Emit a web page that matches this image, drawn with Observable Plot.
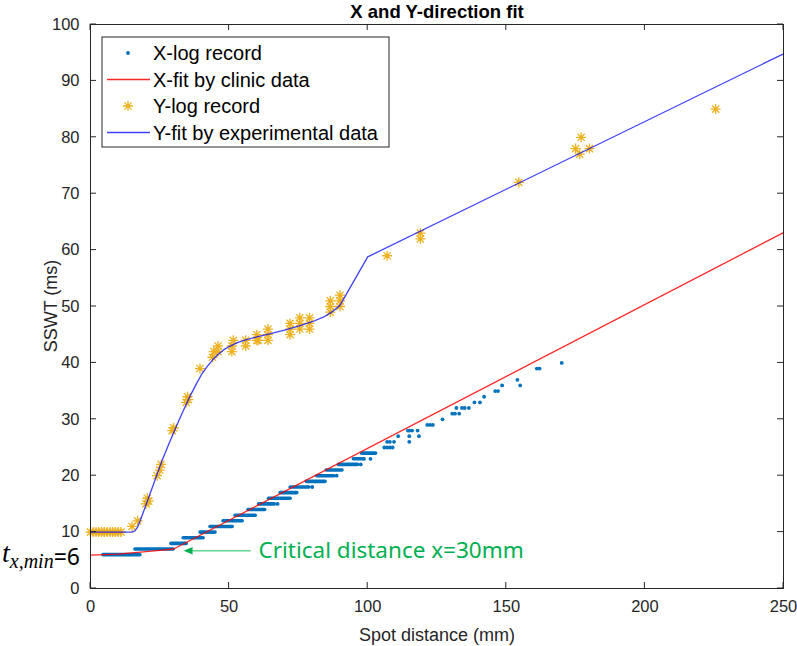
<!DOCTYPE html>
<html><head><meta charset="utf-8">
<script src="https://cdn.jsdelivr.net/npm/d3@7"></script>
<script src="https://cdn.jsdelivr.net/npm/@observablehq/plot@0.6"></script>
<style>body{margin:0;background:#fff} #chart svg{display:block}</style>
</head><body><div id="chart"></div>
<script>
// ---- data ----
const xTicks = [0, 50, 100, 150, 200, 250];
const yTicks = [0, 10, 20, 30, 40, 50, 60, 70, 80, 90, 100];

// X-log record: dense runs of records at one SSWT value [ms, from mm, to mm]
const xLogRuns = [
  [6, 4.7, 18], [7, 16.2, 30], [8, 29.2, 34.7], [9, 33.6, 40.8], [10, 39.7, 45.1],
  [11, 43.3, 51.3], [12, 48, 54.9], [13, 52.3, 59.6], [14, 57, 63], [15, 60.8, 66.5],
  [16, 64.4, 72.2], [17, 68.6, 74.6], [18, 72.2, 79], [19, 78, 84.8], [20, 81.8, 88],
  [21, 85.2, 90.9], [22, 89.6, 96.5], [23, 95, 98.6], [24, 98, 103]
];
// X-log record: isolated records [mm, ms]
const xLogPoints = [
  [67.5, 15], [80, 18], [88.8, 20], [97.5, 22], [98.7, 23], [101, 23],
  [106, 25], [107, 25], [108, 25], [109, 25], [107, 26], [108, 26], [109.5, 26],
  [111, 27], [114.5, 28], [115, 28], [116, 28], [115, 27], [115, 26], [118, 28], [118.5, 27],
  [121.5, 29], [122.5, 29], [123.5, 29], [127, 30], [130.5, 31], [131.5, 31], [133, 31],
  [132, 32], [134, 32], [135, 32], [136.5, 32], [138.5, 33], [140.5, 33], [142, 34],
  [146, 35], [147, 35], [148.5, 36], [154, 37], [155, 36], [161, 39], [162, 39], [170, 40]
];
// X-fit by clinic data [mm, ms]
const xFit = [[0, 5.9], [10, 6.1], [17, 6.4], [25, 6.75], [30, 7.0], [250, 63.1]];
// Y-log record [mm, ms]
const yLog = [
  [0, 10], [1, 10], [2, 10], [3, 10], [4, 10], [5, 10], [6, 10], [7, 10], [8, 10], [9, 10], [10, 10], [11, 10],
  [15, 11], [17, 12], [20, 15], [20.5, 16], [21, 15.5], [24, 20], [25, 21], [25.5, 22],
  [29.5, 28], [30, 28.5], [34.5, 33], [35, 34], [35.3, 33.5], [39.5, 39],
  [44, 41], [44.5, 42], [46, 43], [46, 42], [51, 42], [51, 43], [51.5, 44], [56, 43], [56, 44],
  [60, 44], [60, 45], [60.5, 44], [64, 44], [64, 45], [64, 46],
  [72, 45], [72, 46], [72, 47], [75.5, 46], [75.5, 47], [75.5, 48], [79, 46], [79, 47], [79, 48],
  [86.5, 49], [86.5, 50], [86.5, 51], [90, 50], [90, 51], [90, 52],
  [107, 59], [119, 62], [119, 63], [154.5, 72], [175, 78], [176.5, 77], [177, 80], [180, 78], [225.5, 85]
];
// Y-fit by experimental data [mm, ms]
const yFit = [
  [0, 10], [15, 10], [16, 10.2], [17, 10.9], [18, 12.1], [20, 14.8], [22, 17.5], [24, 20.2], [26, 22.9],
  [28, 25.3], [30, 27.6], [32, 29.9], [34, 32.1], [36, 34.2], [38, 36.1], [40, 37.9], [42, 39.3],
  [44, 40.5], [46, 41.5], [48, 42.3], [50, 42.9], [53, 43.6], [56, 44.1], [60, 44.6], [65, 45.2],
  [70, 45.8], [75, 46.5], [80, 47.3], [84, 48.1], [87, 49.0], [90, 50.2], [100, 58.8], [250, 94.8]
];
const legendItems = ["X-log record", "X-fit by clinic data", "Y-log record", "Y-fit by experimental data"];
const criticalNote = {text: "Critical distance x=30mm", tail: 57.8, tip: 35.2, textAt: 60.6, ms: 6.7};
const tMin = 6;
const titleText = "X and Y-direction fit";
const xLabel = "Spot distance (mm)";
const yLabel = "SSWT (ms)";

// ---- styles ----
const FONT = "'Liberation Sans', Arial, sans-serif";
const C_XLOG = "#0072BD", C_YLOG = "#EDB120", C_RED = "#ff0000", C_BLUE = "#0000ff", AX = "#262626";
const asterisk = {draw(ctx, size) {
  const r = Math.sqrt(size / Math.PI), d = r * 0.72;
  ctx.moveTo(-r, 0); ctx.lineTo(r, 0); ctx.moveTo(0, -r); ctx.lineTo(0, r);
  ctx.moveTo(-d, -d); ctx.lineTo(d, d); ctx.moveTo(-d, d); ctx.lineTo(d, -d);
}};
const triLeft = {draw(ctx, size) {
  const a = Math.sqrt(size) * 0.6;
  ctx.moveTo(-a, 0); ctx.lineTo(a, -a * 0.85); ctx.lineTo(a, a * 0.85); ctx.closePath();
}};
const TICK = 6;

const plot = Plot.plot({
  width: 797, height: 646,
  marginLeft: 90, marginRight: 14, marginTop: 24, marginBottom: 58,
  style: {fontFamily: FONT, fontSize: "16px", color: AX, background: "#fff", overflow: "visible"},
  x: {domain: [0, 250]},
  y: {domain: [0, 100]},
  marks: [
    Plot.ruleY(xLogRuns, {y: d => d[0], x1: d => d[1], x2: d => d[2], stroke: C_XLOG, strokeWidth: 3.6, strokeLinecap: "round"}),
    Plot.dot(xLogPoints, {x: d => d[0], y: d => d[1], r: 1.9, fill: C_XLOG}),
    Plot.line(xFit, {x: d => d[0], y: d => d[1], stroke: C_RED, strokeWidth: 1.3, strokeOpacity: 0.85}),
    Plot.dot(yLog, {x: d => d[0], y: d => d[1], symbol: asterisk, r: 5, stroke: C_YLOG, strokeWidth: 1.3}),
    Plot.line(yFit, {x: d => d[0], y: d => d[1], stroke: C_BLUE, strokeWidth: 1.3, strokeOpacity: 0.75}),
    Plot.frame({stroke: AX}),
    // tick labels
    Plot.axisX(xTicks, {anchor: "bottom", tickSize: 0, tickPadding: 12, label: null, fontSize: 16.5}),
    Plot.axisY(yTicks, {anchor: "left", tickSize: 0, tickPadding: 11, label: null, fontSize: 16.5}),
    // annotation
    Plot.link([criticalNote], {x1: d => d.tail, x2: d => d.tip + 1.5, y1: d => d.ms, y2: d => d.ms, stroke: "#5fd68e", strokeWidth: 1.6}),
    Plot.dot([criticalNote], {x: d => d.tip, y: d => d.ms, symbol: triLeft, r: 4.2, fill: "#00b050", stroke: "none"}),
    Plot.text([criticalNote], {x: d => d.textAt, y: d => d.ms, text: d => d.text, textAnchor: "start", lineAnchor: "middle",
      fill: "#00b050", fontSize: 22.5, fontFamily: "'Noto Sans', 'Open Sans', sans-serif"}),
    // titles
    Plot.text([titleText], {frameAnchor: "top", dy: -7, lineAnchor: "bottom", text: d => d, fontWeight: "bold", fontSize: 18.5, fill: "#000"}),
    Plot.text([xLabel], {frameAnchor: "bottom", dy: 52, lineAnchor: "bottom", text: d => d, fontSize: 18, fill: AX})
  ]
});

const svg = d3.select(plot);
const xS = plot.scale("x"), yS = plot.scale("y");
const [pLeft, pRight] = xS.range, [pBottom, pTop] = yS.range;

// inward tick marks on all four sides (MATLAB box style)
const tk = svg.append("g").attr("stroke", AX).attr("stroke-width", 1);
xTicks.forEach(v => {
  const px = xS.apply(v);
  tk.append("line").attr("x1", px).attr("x2", px).attr("y1", pBottom).attr("y2", pBottom - TICK);
  tk.append("line").attr("x1", px).attr("x2", px).attr("y1", pTop).attr("y2", pTop + TICK);
});
yTicks.forEach(v => {
  const py = yS.apply(v);
  tk.append("line").attr("y1", py).attr("y2", py).attr("x1", pLeft).attr("x2", pLeft + TICK);
  tk.append("line").attr("y1", py).attr("y2", py).attr("x1", pRight).attr("x2", pRight - TICK);
});

// legend
const lg = svg.append("g").attr("font-family", FONT).attr("font-size", 20).attr("fill", "#000").attr("text-anchor", "start");
lg.append("rect").attr("x", 102).attr("y", 37).attr("width", 287).attr("height", 110)
  .attr("fill", "#fff").attr("stroke", AX).attr("stroke-width", 1);
const rowY = [53, 79.5, 106, 132.5];
legendItems.forEach((name, i) => {
  lg.append("text").attr("x", 153).attr("y", rowY[i] + 7).attr("text-anchor", "start").text(name);
});
lg.append("circle").attr("cx", 128).attr("cy", rowY[0]).attr("r", 1.9).attr("fill", C_XLOG);
lg.append("line").attr("x1", 107).attr("x2", 150).attr("y1", rowY[1]).attr("y2", rowY[1]).attr("stroke", C_RED).attr("stroke-width", 1.3).attr("stroke-opacity", 0.85);
lg.append("path").attr("transform", `translate(128,${rowY[2]})`).attr("d", d3.symbol(asterisk, Math.PI * 25)())
  .attr("stroke", C_YLOG).attr("stroke-width", 1.3).attr("fill", "none");
lg.append("line").attr("x1", 107).attr("x2", 150).attr("y1", rowY[3]).attr("y2", rowY[3]).attr("stroke", C_BLUE).attr("stroke-width", 1.3).attr("stroke-opacity", 0.75);

// y label
const yMid = (pBottom + pTop) / 2;
svg.append("text").attr("transform", `translate(57,${yMid}) rotate(-90)`).attr("text-anchor", "middle")
  .attr("font-family", FONT).attr("font-size", 18).attr("fill", AX).text(yLabel);

// t_{x,min}=6 label
const yt = yS.apply(tMin);
const tl = svg.append("text").attr("x", 2).attr("y", yt + 8).attr("fill", "#000").attr("text-anchor", "start");
tl.append("tspan").attr("font-family", "'Liberation Serif', 'DejaVu Serif', serif").attr("font-style", "italic").attr("font-size", 28).text("t");
tl.append("tspan").attr("font-family", "'Liberation Serif', 'DejaVu Serif', serif").attr("font-style", "italic").attr("font-size", 20).attr("dy", 6).text("x,min");
tl.append("tspan").attr("font-family", "'Noto Sans', sans-serif").attr("font-size", 23).attr("dy", -3).text("=" + tMin);

document.getElementById("chart").appendChild(plot);
</script>
</body></html>
